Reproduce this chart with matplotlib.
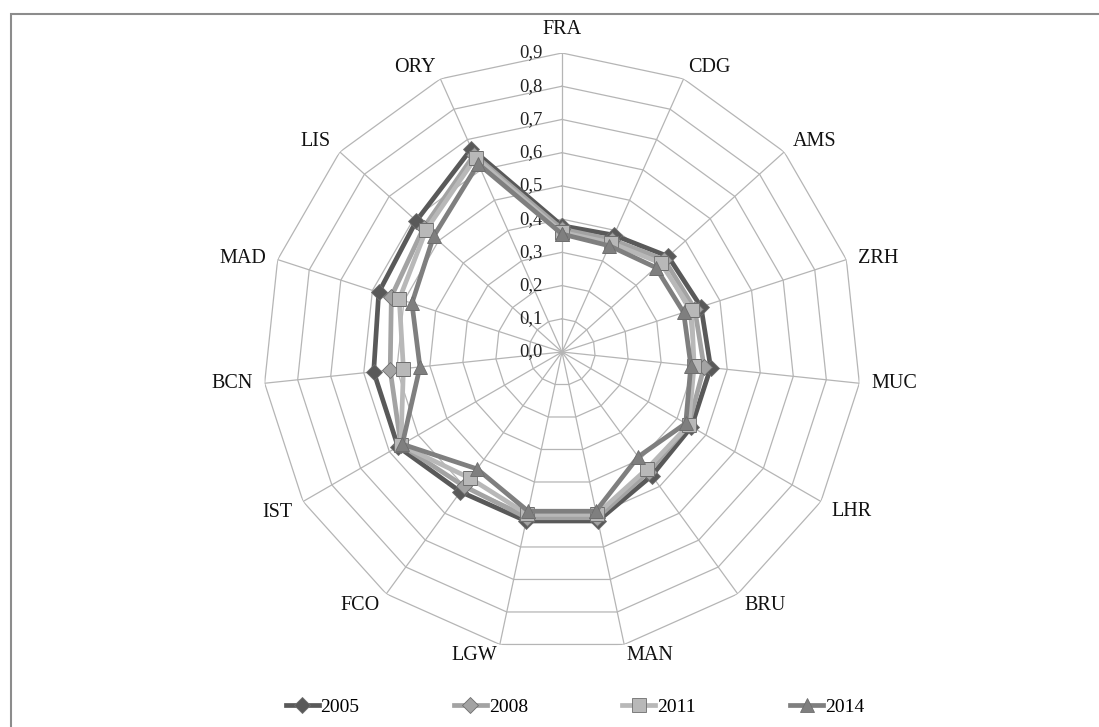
import numpy as np
import matplotlib
matplotlib.use("Agg")
import matplotlib.pyplot as plt
from matplotlib.patches import Rectangle

plt.rcParams['font.family'] = ['Liberation Serif', 'DejaVu Serif']

# Данные
categories = ['FRA', 'CDG', 'AMS', 'ZRH', 'MUC', 'LHR', 'BRU', 'MAN',
              'LGW', 'FCO', 'IST', 'BCN', 'MAD', 'LIS', 'ORY']
years = ['2005', '2008', '2011', '2014']
v2005 = [0.38, 0.385, 0.43, 0.44, 0.45, 0.45, 0.46, 0.52, 0.52, 0.52, 0.57, 0.57, 0.58, 0.59, 0.67]
v2008 = [0.37, 0.37, 0.415, 0.42, 0.43, 0.44, 0.445, 0.51, 0.51, 0.50, 0.56, 0.52, 0.54, 0.56, 0.65]
v2011 = [0.36, 0.36, 0.40, 0.41, 0.40, 0.44, 0.435, 0.50, 0.50, 0.47, 0.56, 0.48, 0.515, 0.55, 0.64]
v2014 = [0.355, 0.35, 0.38, 0.385, 0.39, 0.43, 0.39, 0.49, 0.49, 0.435, 0.555, 0.43, 0.475, 0.52, 0.62]
rings = [0.0, 0.1, 0.2, 0.3, 0.4, 0.5, 0.6, 0.7, 0.8, 0.9]

series = [v2005, v2008, v2011, v2014]
colors = ['#595959', '#a3a3a3', '#b8b8b8', '#7f7f7f']
markers = ['D', 'D', 's', '^']
msizes = [8, 8, 9.5, 10.5]

W, H = 1099, 727
fig = plt.figure(figsize=(W / 100, H / 100), dpi=100)

# рамка (видны только верх и лево)
fig.add_artist(Rectangle((11 / W, -0.1), 1.2, 1.1 - 14 / H,
                         transform=fig.transFigure, fill=False,
                         edgecolor='#8c8c8c', lw=1.5))

cx, cy, R = 562, 352, 299
ax = fig.add_axes([(cx - R) / W, (H - cy - R) / H, 2 * R / W, 2 * R / H],
                  projection='polar')
ax.set_theta_zero_location('N')
ax.set_theta_direction(-1)
ax.set_ylim(0, 0.9)
ax.grid(False)
ax.set_xticks([])
ax.set_yticks([])
ax.spines['polar'].set_visible(False)
ax.patch.set_alpha(0)

n = len(categories)
angles = np.linspace(0, 2 * np.pi, n, endpoint=False)
closed = np.append(angles, angles[0])

# полигональная сетка
for r in rings[1:]:
    ax.plot(closed, [r] * (n + 1), color='#b5b5b5', lw=0.9, zorder=1)
for a in angles:
    ax.plot([a, a], [0, rings[-1]], color='#b5b5b5', lw=0.9, zorder=1)

# подписи шкалы
for r in rings:
    ax.annotate(f"{r:.1f}".replace('.', ','), xy=(0, r), xytext=(-19, 0),
                textcoords='offset pixels', ha='right', va='center',
                fontsize=13.5, color='#222222')

# подписи категорий
for a, lab in zip(angles, categories):
    s, c = np.sin(a), np.cos(a)
    ha = 'left' if s > 0.05 else ('right' if s < -0.05 else 'center')
    va = 'bottom' if c > 0.45 else ('top' if c < -0.45 else 'center')
    dy = 14 if ha == 'center' else 2 * c
    ax.annotate(lab, xy=(a, rings[-1]), xytext=(12 * s, dy),
                textcoords='offset pixels', ha=ha, va=va,
                fontsize=14.5, color='#111111', annotation_clip=False)

handles = []
for vals, col, m, ms, yr in zip(series, colors, markers, msizes, years):
    h, = ax.plot(closed, vals + vals[:1], color=col, lw=3.4, marker=m,
                 markersize=ms, markeredgecolor='#6e6e6e', markeredgewidth=0.6,
                 label=yr, zorder=3)
    handles.append(h)

fig.legend(handles=handles, loc='center', bbox_to_anchor=(575 / W, 1 - 707 / H),
           ncol=4, frameon=False, fontsize=14, handlelength=1.7,
           handletextpad=0.1, columnspacing=4.85)

fig.savefig('out.png', dpi=100, facecolor='white')
